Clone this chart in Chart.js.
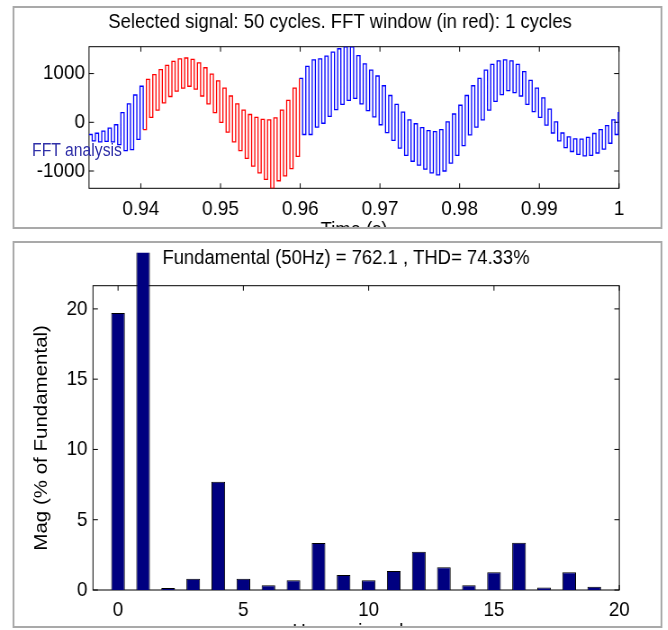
<!DOCTYPE html>
<html>
<head>
<meta charset="utf-8">
<script src="https://cdn.jsdelivr.net/npm/chart.js@4.4.0/dist/chart.umd.min.js"></script>
<style>
  html, body { margin: 0; padding: 0; background: #fff; overflow: hidden; }
  /* the reference screenshot is squeezed horizontally, so the whole page is too */
  #page { position: absolute; left: 0; top: 0; width: 742px; height: 630px; transform: scaleX(0.9); transform-origin: 0 0; }
  .panel { position: absolute; left: 14px; width: 722px; box-sizing: border-box; border: 2px solid #a9a9a9; overflow: hidden; background: #fff; }
  #topPanel { top: 6px; height: 223px; }
  #bottomPanel { top: 241px; height: 387px; }
  canvas { position: absolute; left: 0; top: 0; }
  #fftLabel { position: absolute; left: 35.6px; top: 142px; font: 17.5px 'Liberation Sans', Arial, sans-serif; line-height: 17px; color: #3030a8; white-space: nowrap; }
</style>
</head>
<body>
<div id="page">
  <div class="panel" id="topPanel"><canvas id="signal" width="718" height="250"></canvas></div>
  <div class="panel" id="bottomPanel"><canvas id="spectrum" width="718" height="420"></canvas></div>
  <div id="fftLabel">FFT analysis</div>
</div>
<script>
// ---- signal: one high and one low sample per 0.8 ms ripple period, starting at 0.9335 s
const sigStart = 0.9335;
const ripplePeriod = 0.0008;
const sigHi = [-250, -225, -180, -120, -50, 200, 380, 560, 740, 880,
  980, 1080, 1170, 1250, 1300, 1320, 1290, 1220, 1120, 990,
  850, 700, 540, 380, 250, 160, 100, 60, 50, 90,
  250, 450, 700, 900, 1150, 1280, 1300, 1360, 1440, 1510,
  1550, 1550, 1370, 1200, 1070, 950, 750, 550, 370, 210,
  50, -30, -110, -170, -190, -150, 10, 170, 350, 550,
  750, 900, 1070, 1190, 1260, 1280, 1260, 1190, 1040, 860,
  700, 500, 270, 10, -220, -300, -340, -345, -310, -230,
  -150, -70, 50, 200];
const sigLo = [-380, -400, -390, -400, -460, -580, -560, -350, -150, 100,
  250, 400, 530, 640, 700, 740, 680, 540, 380, 200,
  0, -200, -400, -580, -740, -900, -1040, -1170, -1355, -1200,
  -1100, -950, -700, -250, -250, -100, -20, 120, 260, 370,
  450, 490, 380, 240, 110, -50, -210, -370, -530, -680,
  -800, -880, -960, -1040, -1080, -1000, -840, -680, -480, -260,
  -100, 50, 250, 430, 570, 650, 610, 540, 370, 220,
  100, -60, -220, -380, -520, -600, -660, -690, -680, -630,
  -550, -430, -250, 0];
const fftStart = 0.94, fftEnd = 0.96;
const timeTicks = [0.94, 0.95, 0.96, 0.97, 0.98, 0.99, 1];
const ampTicks = [-1000, 0, 1000];

// ---- spectrum
const harmonicOrder = [0, 1, 2, 3, 4, 5, 6, 7, 8, 9, 10, 11, 12, 13, 14, 15, 16, 17, 18, 19];
const harmonicMag = [19.7, 100, 0.15, 0.8, 7.7, 0.8, 0.33, 0.7, 3.35, 1.07,
  0.7, 1.35, 2.73, 1.62, 0.33, 1.26, 3.37, 0.17, 1.26, 0.24];
const orderTicks = [0, 5, 10, 15, 20];
const magTicks = [0, 5, 10, 15, 20];

const FONT = "'Liberation Sans', Arial, Helvetica, sans-serif";
Chart.defaults.font.family = FONT;
Chart.defaults.color = '#000';

const signalPoints = [];
sigHi.forEach((h, k) => {
  signalPoints.push({ x: sigStart + k * ripplePeriod, y: h });
  signalPoints.push({ x: sigStart + (k + 0.5) * ripplePeriod, y: sigLo[k] });
});

// matlab style box with inward ticks
const boxPlugin = {
  id: 'matlabBox',
  beforeDatasetsDraw(chart) {
    const { ctx, chartArea: a, scales: { x, y } } = chart;
    ctx.save();
    ctx.strokeStyle = '#000';
    ctx.lineWidth = 1;
    ctx.strokeRect(a.left, a.top, a.right - a.left, a.bottom - a.top);
    ctx.beginPath();
    x.ticks.forEach(t => {
      const px = x.getPixelForValue(t.value);
      ctx.moveTo(px, a.bottom); ctx.lineTo(px, a.bottom - 5);
      ctx.moveTo(px, a.top); ctx.lineTo(px, a.top + 5);
    });
    y.ticks.forEach(t => {
      const py = y.getPixelForValue(t.value);
      ctx.moveTo(a.left, py); ctx.lineTo(a.left + 5.5, py);
      ctx.moveTo(a.right, py); ctx.lineTo(a.right - 5.5, py);
    });
    ctx.stroke();
    ctx.restore();
  }
};

const titlePlugin = {
  id: 'panelTitle',
  afterDraw(chart, args, opts) {
    const ctx = chart.ctx;
    ctx.save();
    ctx.font = opts.size + 'px ' + FONT;
    ctx.fillStyle = '#000';
    ctx.textAlign = 'center';
    ctx.textBaseline = 'alphabetic';
    ctx.fillText(opts.text, opts.x, opts.y);
    ctx.restore();
  }
};

const fixedTicks = arr => scale => { scale.ticks = arr.map(v => ({ value: v })); };

new Chart(document.getElementById('signal'), {
  type: 'line',
  data: {
    datasets: [{
      data: signalPoints,
      borderColor: '#0000ff',
      borderWidth: 1.3,
      pointRadius: 0,
      stepped: true,
      segment: {
        borderColor: c => (c.p0.parsed.x >= fftStart - 1e-9 && c.p1.parsed.x <= fftEnd + 1e-9) ? '#ff0000' : undefined
      }
    }]
  },
  plugins: [boxPlugin, titlePlugin],
  options: {
    responsive: false,
    animation: false,
    layout: { padding: { top: 38.7, right: 46.2, left: 0, bottom: 0 } },
    plugins: {
      legend: { display: false },
      tooltip: { enabled: false },
      panelTitle: { text: 'Selected signal: 50 cycles. FFT window (in red): 1 cycles', x: 361.8, y: 20.3, size: 20.5 }
    },
    scales: {
      x: {
        type: 'linear', min: 0.9335, max: 1.0,
        afterBuildTicks: fixedTicks(timeTicks),
        afterFit: s => { s.height = 69.7; },
        grid: { display: false, drawTicks: false },
        border: { display: false },
        ticks: { padding: 8, maxRotation: 0, autoSkip: false, font: { size: 21 }, callback: v => String(v) },
        title: { display: true, text: 'Time (s)', font: { size: 20.5 }, padding: { top: 0, bottom: 15.4 } }
      },
      y: {
        min: -1355, max: 1552,
        afterBuildTicks: fixedTicks(ampTicks),
        afterFit: s => { s.width = 82.9; },
        grid: { display: false, drawTicks: false },
        border: { display: false },
        ticks: { padding: 4.5, font: { size: 21 }, callback: v => String(v) }
      }
    }
  }
});

new Chart(document.getElementById('spectrum'), {
  type: 'bar',
  data: {
    datasets: [{
      data: harmonicOrder.map((h, i) => ({ x: h, y: harmonicMag[i] })),
      backgroundColor: '#000080',
      borderColor: '#000000',
      borderWidth: 1,
      barPercentage: 0.545,
      categoryPercentage: 1,
      clip: { left: 0, top: 33, right: 0, bottom: 0 }
    }]
  },
  plugins: [boxPlugin, titlePlugin],
  options: {
    responsive: false,
    animation: false,
    layout: { padding: { top: 42.7, right: 45.9, left: 0, bottom: 0 } },
    plugins: {
      legend: { display: false },
      tooltip: { enabled: false },
      panelTitle: { text: 'Fundamental (50Hz) = 762.1 , THD= 74.33%', x: 368.4, y: 21, size: 20.5 }
    },
    scales: {
      x: {
        type: 'linear', min: -1, max: 20, offset: false,
        afterBuildTicks: fixedTicks(orderTicks),
        afterFit: s => { s.height = 73; },
        grid: { display: false, drawTicks: false, offset: false },
        border: { display: false },
        ticks: { padding: 8, maxRotation: 0, autoSkip: false, font: { size: 21 }, callback: v => String(v) },
        title: { display: true, text: 'Harmonic order', font: { size: 20.5 }, padding: { top: 0, bottom: 18.4 } }
      },
      y: {
        min: 0, max: 21.65,
        afterBuildTicks: fixedTicks(magTicks),
        afterFit: s => { s.width = 87.3; },
        grid: { display: false, drawTicks: false },
        border: { display: false },
        ticks: { padding: 6, font: { size: 21 }, callback: v => String(v) },
        title: { display: true, text: 'Mag (% of Fundamental)', font: { size: 20.5 }, padding: { top: 18.4, bottom: 0 } }
      }
    }
  }
});
</script>
</body>
</html>
